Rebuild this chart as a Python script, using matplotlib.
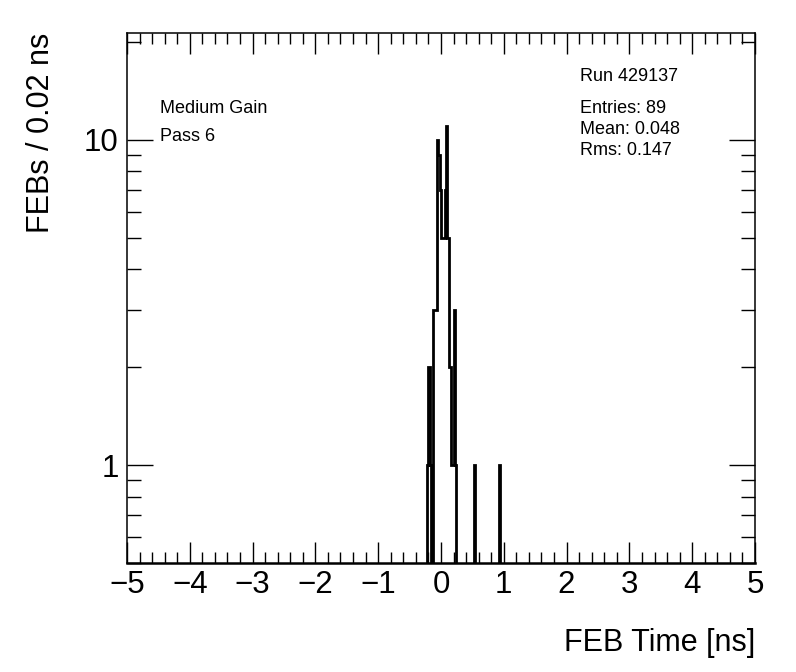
import matplotlib
matplotlib.use('Agg')
import matplotlib.pyplot as plt
from matplotlib.ticker import MultipleLocator, FixedLocator, NullFormatter
import numpy as np

plt.rcParams['font.family'] = ['Liberation Sans', 'DejaVu Sans']

# FEB time distribution, 0.02 ns bins from -5 to 5 ns
bin_left = [-0.22, -0.20, -0.18, -0.12, -0.10, -0.08, -0.06, -0.04, -0.02,
            0.00, 0.02, 0.04, 0.06, 0.08, 0.10, 0.12, 0.14, 0.16, 0.18,
            0.20, 0.22, 0.52, 0.92]
counts = [1, 2, 1, 3, 3, 3, 10, 9, 7,
          5, 5, 5, 7, 11, 5, 2, 2, 1, 1,
          3, 1, 1, 1]
bin_width = 0.02
x_range = (-5, 5)
y_range = (0.5, 21.3)

run_text = 'Run 429137'
stats_text = ['Entries: 89', 'Mean: 0.048', 'Rms: 0.147']
info_text = ['Medium Gain', 'Pass 6']

edges = np.arange(x_range[0], x_range[1] + bin_width / 2, bin_width)
centers = np.array(bin_left) + bin_width / 2
h, _ = np.histogram(centers, bins=edges, weights=counts)
# empty bins drop below the log axis, like ROOT draws them
h_draw = np.where(h > 0, h, 1e-3)

fig = plt.figure(figsize=(7.96, 6.72), dpi=100)
ax = fig.add_axes([0.1595, 0.1622, 0.789, 0.7887])
ax.stairs(h_draw, edges, color='black', linewidth=2, baseline=None)

ax.set_yscale('log')
ax.set_xlim(*x_range)
ax.set_ylim(*y_range)

ax.xaxis.set_major_locator(MultipleLocator(1))
ax.xaxis.set_minor_locator(MultipleLocator(0.2))
ax.yaxis.set_major_locator(FixedLocator([1, 10]))
ax.yaxis.set_minor_locator(FixedLocator([0.5, 0.6, 0.7, 0.8, 0.9, 2, 3, 4, 5, 6, 7, 8, 9, 20]))
ax.yaxis.set_minor_formatter(NullFormatter())
ax.set_yticklabels(['1', '10'])
ax.set_xticks(range(-5, 6))
ax.set_xticklabels([str(v).replace('-', '\u2212') for v in range(-5, 6)])

ax.tick_params(axis='x', which='major', direction='in', length=15, width=1,
               top=True, labelsize=22.5, pad=5)
ax.tick_params(axis='x', which='minor', direction='in', length=8, width=1, top=True)
ax.tick_params(axis='y', which='major', direction='in', length=19, width=1,
               right=True, labelsize=22.5, pad=6)
ax.tick_params(axis='y', which='minor', direction='in', length=10, width=1, right=True)
for s in ax.spines.values():
    s.set_linewidth(1.1)
ax.spines['bottom'].set_linewidth(1.8)

ax.set_xlabel('FEB Time [ns]', fontsize=22, loc='right', labelpad=20)
ax.set_ylabel('FEBs / 0.02 ns', fontsize=22, loc='top', labelpad=20)

ax.text(0.053, 0.857, info_text[0], transform=ax.transAxes, fontsize=13, va='center')
ax.text(0.053, 0.804, info_text[1], transform=ax.transAxes, fontsize=13, va='center')
ax.text(0.722, 0.918, run_text, transform=ax.transAxes, fontsize=13, va='center')
for i, t in enumerate(stats_text):
    ax.text(0.722, 0.857 - 0.039 * i, t, transform=ax.transAxes, fontsize=13, va='center')

fig.savefig('out.png', dpi=100)
